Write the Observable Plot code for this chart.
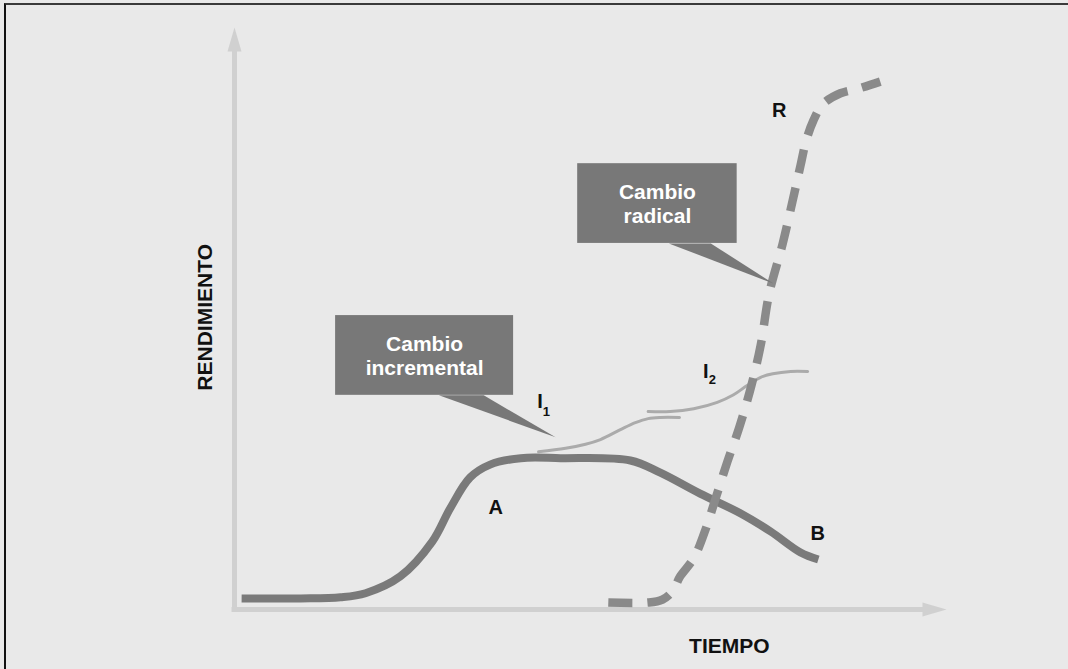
<!DOCTYPE html>
<html><head><meta charset="utf-8">
<script src="https://cdn.jsdelivr.net/npm/d3@7"></script>
<script src="https://cdn.jsdelivr.net/npm/@observablehq/plot@0.6"></script>
<style>
html,body{margin:0;padding:0;background:#e9e9e9;}
#wrap{position:relative;width:1068px;height:669px;overflow:hidden;}
#frame{position:absolute;left:4px;top:3px;right:-10px;bottom:-10px;border-top:2px solid #3a3a3a;border-left:2px solid #111;pointer-events:none;}
</style></head><body><div id="wrap"><div id="chart"></div><div id="frame"></div></div>
<script>
// Curve A–B (incremental performance curve)
const abTime = [1.0, 9.3, 14.9, 18.4, 23.3, 27.8, 30.3, 33.1, 35.9, 40.2, 45.8, 55.6, 59.8, 65.4, 71.1, 75.3, 79.5, 82.0];
const abPerf = [1.9, 1.9, 2.1, 2.8, 5.7, 11.7, 17.4, 22.7, 24.9, 26.0, 26.0, 25.6, 23.5, 19.9, 16.5, 13.4, 9.8, 8.6];
// Curve R (radical change, dashed)
const rTime = [52.5, 58.1, 60.1, 61.5, 62.6, 64.5, 66.2, 67.6, 69.2, 70.9, 72.6, 73.9, 75.1, 77.0, 78.4, 79.5, 80.3, 81.3, 82.6, 85.1, 87.6, 90.7];
const rPerf = [1.2, 1.2, 1.7, 3.1, 5.7, 8.8, 13.9, 19.2, 25.3, 31.3, 38.5, 45.4, 54.3, 62.9, 70.3, 76.3, 80.6, 84.0, 86.8, 88.7, 89.5, 90.7];
// Curves I1 and I2 (incremental steps)
const i1Time = [42.7, 46.5, 49.3, 51.4, 54.2, 56.3, 58.1, 59.8, 62.5];
const i1Perf = [27.1, 27.7, 28.4, 29.2, 30.9, 32.1, 32.8, 33.0, 33.0];
const i2Time = [58.1, 61.2, 64.5, 67.8, 70.1, 72.0, 73.9, 75.6, 78.1, 80.5];
const i2Perf = [34.0, 34.0, 34.5, 35.6, 36.9, 38.5, 39.9, 40.5, 40.9, 40.9];
// Callouts
const calloutText = ["Cambio\nincremental", "Cambio\nradical"];
const boxTime1 = [14.2, 48.2], boxTime2 = [39.2, 70.6];
const boxPerf1 = [36.8, 62.9], boxPerf2 = [50.5, 76.6];
const pointerTime = [[28.7, 35.0, 45.1], [61.0, 66.9, 75.7]];
const pointerPerf = [[36.8, 36.8, 29.6], [62.9, 62.9, 56.0]];
// Curve labels
const labelText = ["A", "B", "R", "I", "I"];
const labelTime = [36.7, 81.9, 76.5, 42.9, 66.2];
const labelPerf = [17.5, 13.1, 85.7, 35.7, 40.9];
const subText = ["1", "2"];
const subTime = [43.8, 67.1];
const subPerf = [34.0, 39.4];
// Axis titles
const yTitle = "RENDIMIENTO", xTitle = "TIEMPO";

const toRows = (xs, ys) => xs.map((t, i) => ({t, v: ys[i]}));
const ab = toRows(abTime, abPerf);
const rr = toRows(rTime, rPerf);
const i1 = toRows(i1Time, i1Perf);
const i2 = toRows(i2Time, i2Perf);
const boxes = calloutText.map((s, i) => ({s, x1: boxTime1[i], x2: boxTime2[i], y1: boxPerf1[i], y2: boxPerf2[i],
  cx: (boxTime1[i] + boxTime2[i]) / 2, cy: (boxPerf1[i] + boxPerf2[i]) / 2}));
const pointers = pointerTime.flatMap((ts, k) => ts.map((t, j) => ({k, t, v: pointerPerf[k][j]})));
const labels = labelText.map((s, i) => ({s, t: labelTime[i], v: labelPerf[i]}));
const subs = subText.map((s, i) => ({s, t: subTime[i], v: subPerf[i]}));

const arrowHead = {draw(ctx) { ctx.moveTo(0, 0); ctx.lineTo(7, 24); ctx.lineTo(-7, 24); ctx.closePath(); }};
const axisColor = "#d0d0d0";
const font = "'Liberation Sans', Arial, Helvetica, sans-serif";

const chart = Plot.plot({
  width: 1068, height: 669,
  marginLeft: 234, marginRight: 122, marginTop: 27, marginBottom: 60,
  x: {domain: [0, 100], axis: null},
  y: {domain: [0, 100], axis: null},
  style: {background: "#e9e9e9", fontFamily: font, overflow: "visible"},
  marks: [
    Plot.ruleX([0], {y1: -0.45, y2: 96.2, stroke: axisColor, strokeWidth: 5}),
    Plot.ruleY([0], {x1: -0.35, x2: 96.8, stroke: axisColor, strokeWidth: 5}),
    Plot.dot([{t: 0, v: 100, a: 0}, {t: 100, v: 0, a: 90}], {x: "t", y: "v", rotate: "a", symbol: arrowHead, fill: axisColor, stroke: "none"}),
    Plot.line(i1, {x: "t", y: "v", curve: "catmull-rom", stroke: "#ababab", strokeWidth: 3}),
    Plot.line(i2, {x: "t", y: "v", curve: "catmull-rom", stroke: "#ababab", strokeWidth: 3}),
    Plot.line(ab, {x: "t", y: "v", curve: "catmull-rom", stroke: "#7a7a7a", strokeWidth: 8, strokeLinecap: "butt", strokeLinejoin: "round"}),
    Plot.line(rr, {x: "t", y: "v", curve: "catmull-rom", stroke: "#8a8a8a", strokeWidth: 8.5, strokeDasharray: "24,15", strokeLinecap: "butt"}),
    Plot.rect(boxes, {x1: "x1", x2: "x2", y1: "y1", y2: "y2", fill: "#787878"}),
    Plot.line(pointers, {x: "t", y: "v", z: "k", fill: "#787878", stroke: "none", curve: "linear"}),
    Plot.text(boxes, {x: "cx", y: "cy", text: "s", fill: "white", fontSize: 21, fontWeight: "bold", lineHeight: 1.15, lineAnchor: "middle"}),
    Plot.text(labels, {x: "t", y: "v", text: "s", fill: "#111", fontSize: 20, fontWeight: "bold"}),
    Plot.text(subs, {x: "t", y: "v", text: "s", fill: "#111", fontSize: 13, fontWeight: "bold"}),
    Plot.text([yTitle], {x: -4.1, y: 50.2, text: d => d, rotate: -90, fill: "#111", fontSize: 21, fontWeight: "bold"}),
    Plot.text([xTitle], {x: 69.5, y: -6.4, text: d => d, fill: "#111", fontSize: 21, fontWeight: "bold"})
  ]
});
document.getElementById("chart").appendChild(chart);
</script>
</body></html>
